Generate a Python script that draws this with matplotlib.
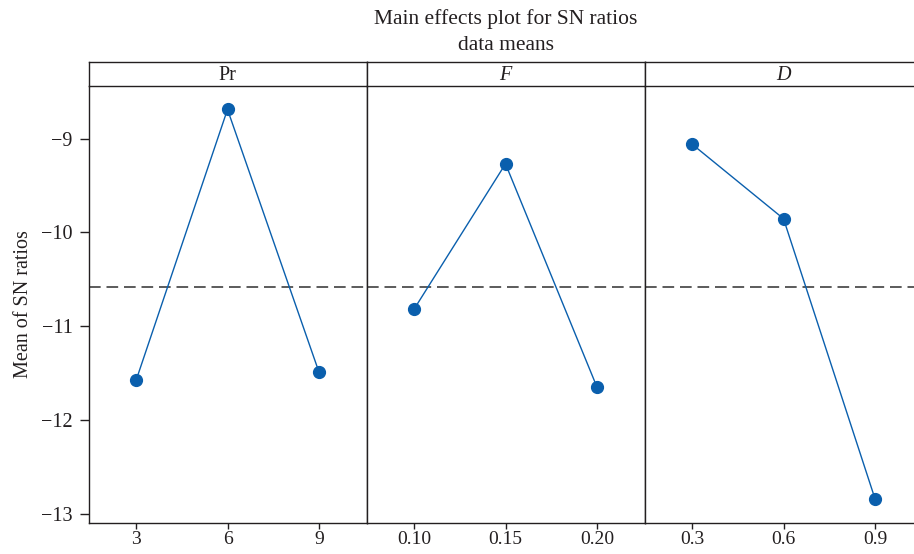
import matplotlib
matplotlib.use('Agg')
import matplotlib.pyplot as plt
import numpy as np

# factor levels and mean SN ratios
pr_levels = ['3', '6', '9']
pr_sn = [-11.58, -8.69, -11.49]

f_levels = ['0.10', '0.15', '0.20']
f_sn = [-10.82, -9.27, -11.65]

d_levels = ['0.3', '0.6', '0.9']
d_sn = [-9.06, -9.855, -12.84]

factor_names = ['Pr', 'F', 'D']
y_ticks = [-13, -12, -11, -10, -9]
y_ticklabels = ['\u221213', '\u221212', '\u221211', '\u221210', '\u22129']

LINE_COLOR = '#0a5fad'
EDGE = '#231f20'
FS = 14.5

plt.rcParams['font.family'] = ['Liberation Serif', 'DejaVu Serif']

W, H = 914, 554
fig = plt.figure(figsize=(W / 100, H / 100), dpi=100)

left0 = 88.5 / W
pw = 278 / W
bottom = 1 - 523 / H
top = 1 - 86 / H
strip_h = 24 / H

levels = [pr_levels, f_levels, d_levels]
values = [pr_sn, f_sn, d_sn]
grand_mean = np.mean(np.concatenate([pr_sn, f_sn, d_sn]))

for i, (name, lv, sn) in enumerate(zip(factor_names, levels, values)):
    ax = fig.add_axes([left0 + i * pw, bottom, pw, top - bottom])
    x = np.arange(len(lv))
    ax.plot(x, sn, color=LINE_COLOR, lw=1.0, marker='o', ms=8.5,
            mec=LINE_COLOR, mfc=LINE_COLOR, zorder=3)
    ax.axhline(grand_mean, color='#404040', lw=1.2, ls=(0, (7, 3.5)), zorder=2)
    ax.set_xlim(-0.52, 2.52)
    ax.set_ylim(-13.10, -8.44)
    ax.set_xticks(x)
    ax.set_xticklabels(lv)
    ax.set_yticks(y_ticks)
    ax.tick_params(axis='both', direction='out', width=1.0,
                   color=EDGE, labelcolor=EDGE)
    ax.tick_params(axis='x', length=4, pad=2, labelsize=14)
    ax.tick_params(axis='y', length=6.5, pad=5, labelsize=FS)
    for sp in ax.spines.values():
        sp.set_color(EDGE)
        sp.set_linewidth(1.0)
    ax.spines['top'].set_visible(False)
    if i > 0:
        ax.tick_params(axis='y', left=False, labelleft=False)
    else:
        ax.set_yticklabels(y_ticklabels)
        ax.set_ylabel('Mean of SN ratios', fontsize=FS, color=EDGE, labelpad=6)
    if i == 2:
        ax.spines['right'].set_visible(False)

    # strip with the factor name
    sax = fig.add_axes([left0 + i * pw, top, pw, strip_h])
    sax.set_xticks([])
    sax.set_yticks([])
    for sp in sax.spines.values():
        sp.set_color(EDGE)
        sp.set_linewidth(1.0)
    if i == 2:
        sax.spines['right'].set_visible(False)
    style = 'normal' if name == 'Pr' else 'italic'
    sax.text(0.5, 0.42, name, ha='center', va='center', fontsize=FS,
             style=style, color=EDGE, transform=sax.transAxes)

fig.text(505.5 / W, 1 - 19 / H, 'Main effects plot for SN ratios',
         ha='center', va='center', fontsize=15.5, color=EDGE)
fig.text(505.5 / W, 1 - 46 / H, 'data means', ha='center', va='center',
         fontsize=15.5, color=EDGE)

fig.savefig('out.png', dpi=100)
